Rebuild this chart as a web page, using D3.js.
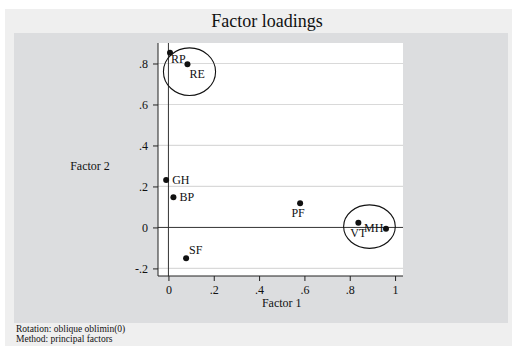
<!DOCTYPE html>
<html><head><meta charset="utf-8">
<script src="https://cdn.jsdelivr.net/npm/d3@7"></script>
<style>body{margin:0;background:#fff}svg{display:block}text{font-family:"Liberation Serif","Times New Roman",serif;fill:#111}</style>
</head><body><svg id="c" width="512" height="352"></svg>
<script>
const labels = ["RP","RE","GH","BP","PF","SF","VT","MH"];
const factor1 = [0.007,0.084,-0.010,0.022,0.581,0.078,0.838,0.960];
const factor2 = [0.853,0.796,0.232,0.147,0.118,-0.150,0.023,-0.007];
// label placement: dx, dy offsets in px relative to point, anchor
const labelPos = [[1,10,"start"],[2,14,"start"],[6,4,"start"],[6,4,"start"],[-2,14,"middle"],[3,-4,"start"],[-8,14,"start"],[-22,3,"start"]];
const xTicks = [0,0.2,0.4,0.6,0.8,1];
const yTicks = [-0.2,0,0.2,0.4,0.6,0.8];
const tickFmt = v => v===0?"0":(v===1?"1":(v<0?"-"+String(-v).replace("0.","."):String(v).replace("0.",".")));
const ellipses = [{cx:0.093,cy:0.76,rx:0.115,ry:0.116},{cx:0.887,cy:0.004,rx:0.114,ry:0.106}];

const svg = d3.select("#c");
svg.append("rect").attr("x",5).attr("y",9).attr("width",507).attr("height",337).attr("fill","#efefef");
svg.append("rect").attr("x",14).attr("y",33).attr("width",494).attr("height",290).attr("fill","#dcdddf");
const L=158,R=403,T=43,B=276;
svg.append("rect").attr("x",L).attr("y",T).attr("width",R-L).attr("height",B-T).attr("fill","#fff");
const x = d3.scaleLinear().domain([-0.046,1.035]).range([L,R]);
const y = d3.scaleLinear().domain([-0.237,0.9]).range([B,T]);

// gridlines
svg.append("g").selectAll("line").data(yTicks.filter(v=>v!==0)).join("line")
  .attr("x1",L).attr("x2",R).attr("y1",d=>y(d)).attr("y2",d=>y(d)).attr("stroke","#d9d9d9").attr("stroke-width",1.2);
// zero lines
svg.append("line").attr("x1",L).attr("x2",R).attr("y1",y(0)).attr("y2",y(0)).attr("stroke","#333").attr("stroke-width",1);
svg.append("line").attr("y1",T).attr("y2",B).attr("x1",x(0)).attr("x2",x(0)).attr("stroke","#333").attr("stroke-width",1);

// axes
const xa = svg.append("g").attr("transform",`translate(0,${B})`).call(d3.axisBottom(x).tickValues(xTicks).tickFormat(tickFmt).tickSize(5).tickPadding(4));
const ya = svg.append("g").attr("transform",`translate(${L},0)`).call(d3.axisLeft(y).tickValues(yTicks).tickFormat(tickFmt).tickSize(5).tickPadding(5));
[xa,ya].forEach(a=>{a.attr("font-family","Liberation Serif").attr("font-size",12);
  a.select(".domain").attr("stroke","#222").attr("d", a===xa?`M${L},0H${R}`:`M0,${T}V${B}`);
  a.selectAll(".tick line").attr("stroke","#222");
  a.selectAll("text").style("font-size","12px").attr("fill","#111").style("font-family","'Liberation Serif',serif");});
ya.selectAll("text").attr("dy","0.35em");

// points
svg.append("g").selectAll("circle").data(labels).join("circle")
  .attr("cx",(d,i)=>x(factor1[i])).attr("cy",(d,i)=>y(factor2[i])).attr("r",3).attr("fill","#111");
svg.append("g").selectAll("text").data(labels).join("text")
  .attr("x",(d,i)=>x(factor1[i])+labelPos[i][0]).attr("y",(d,i)=>y(factor2[i])+labelPos[i][1])
  .attr("text-anchor",(d,i)=>labelPos[i][2]).style("font-size","12px").text(d=>d);

// ellipses
svg.append("g").selectAll("ellipse").data(ellipses).join("ellipse")
  .attr("cx",d=>x(d.cx)).attr("cy",d=>y(d.cy))
  .attr("rx",d=>x(d.cx+d.rx)-x(d.cx)).attr("ry",d=>y(d.cy-d.ry)-y(d.cy))
  .attr("fill","none").attr("stroke","#111").attr("stroke-width",1.1);

// titles
svg.append("text").attr("x",267).attr("y",27).attr("text-anchor","middle").style("font-size","18px").text("Factor loadings");
svg.append("text").attr("x",x(0.5)).attr("y",307).attr("text-anchor","middle").style("font-size","12px").text("Factor 1");
svg.append("text").attr("x",90).attr("y",170).attr("text-anchor","middle").style("font-size","12px").text("Factor 2");
svg.append("text").attr("x",16).attr("y",332).style("font-size","9.5px").text("Rotation: oblique oblimin(0)");
svg.append("text").attr("x",16).attr("y",342).style("font-size","9.5px").text("Method: principal factors");
</script></body></html>
